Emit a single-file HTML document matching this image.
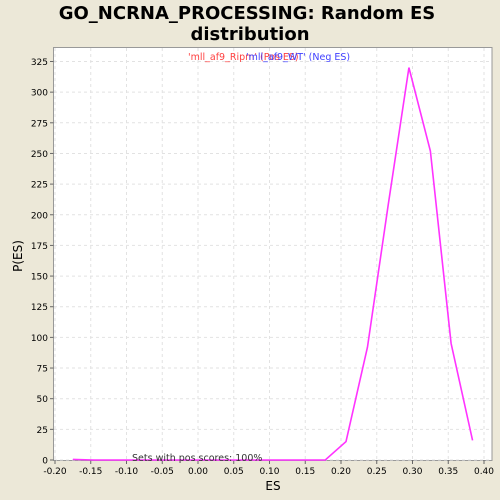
<!DOCTYPE html>
<html><head><meta charset="utf-8"><style>
body{margin:0;background:#ece8d8;font-family:"DejaVu Sans","Liberation Sans",sans-serif}
svg{display:block}
</style></head><body>
<svg id="chart" width="500" height="500">
<rect x="0" y="0" width="500" height="500" fill="#ece8d8"/>
<text x="247" y="19" text-anchor="middle" font-size="18" font-weight="bold">GO_NCRNA_PROCESSING: Random ES</text>
<text x="250" y="40" text-anchor="middle" font-size="18" font-weight="bold">distribution</text>
<rect x="53.5" y="47.5" width="438.5" height="413" fill="#fff" stroke="#999"/>
<g id="grid"></g>
<g id="axes"></g>
<polyline id="line" fill="none" stroke="#ff33ff" stroke-width="1.6"/>
<text x="188" y="60" font-size="9.5" fill="#ff4040">'mll_af9_Ripm' (Pos ES)</text>
<text x="246" y="60" font-size="9.5" fill="#4040ff">'mll_af9_WT' (Neg ES)</text>
<text x="132" y="461" font-size="9.5" fill="#333">Sets with pos scores: 100%</text>
<text x="273" y="490" text-anchor="middle" font-size="12">ES</text>
<text x="22" y="256" text-anchor="middle" font-size="12" transform="rotate(-90 22 256)">P(ES)</text>
</svg>
<script>
const esValues=[-0.175,-0.146,-0.116,-0.087,-0.058,-0.029,0.000,0.030,0.060,0.089,0.119,0.148,0.178,0.207,0.237,0.266,0.295,0.325,0.354,0.384];
const pValues=[0.5,0,0,0,0,0,0,0,0,0,0,0,0,15,92,208,320,252,95,16];
const xTicks=[-0.20,-0.15,-0.10,-0.05,0.00,0.05,0.10,0.15,0.20,0.25,0.30,0.35,0.40];
const yTicks=[0,25,50,75,100,125,150,175,200,225,250,275,300,325];
const NS='http://www.w3.org/2000/svg';
const xs=v=>55+(v+0.2)*715;
const ys=v=>460-v*1.2262;
const grid=document.getElementById('grid'),axes=document.getElementById('axes');
function mk(tag,attrs,parent){const e=document.createElementNS(NS,tag);for(const k in attrs)e.setAttribute(k,attrs[k]);parent.appendChild(e);return e;}
xTicks.forEach(t=>{
 const x=xs(t);
 const g=mk('line',{x1:x,x2:x,y1:48,y2:460,stroke:'#e2e2e2','stroke-dasharray':'3,3'},grid);
 
 
 const tk=mk('line',{x1:x,x2:x,y1:460,y2:464,stroke:'#666'},axes);
 
 
 const lb=mk('text',{x:x,y:474,'text-anchor':'middle','font-size':'9'},axes);
 lb.textContent=t.toFixed(2);
 
 
});
yTicks.forEach(t=>{
 const y=ys(t);
 const g=mk('line',{x1:54,x2:492,y1:y,y2:y,stroke:'#e2e2e2','stroke-dasharray':'3,3'},grid);
 
 
 const tk=mk('line',{x1:50,x2:53.5,y1:y,y2:y,stroke:'#666'},axes);
 
 
 const lb=mk('text',{x:48,y:y+3.5,'text-anchor':'end','font-size':'9'},axes);
 lb.textContent=t;
 
 
});
document.getElementById('line').setAttribute('points',esValues.map((v,i)=>xs(v)+','+ys(pValues[i])).join(' '));
</script>
</body></html>
